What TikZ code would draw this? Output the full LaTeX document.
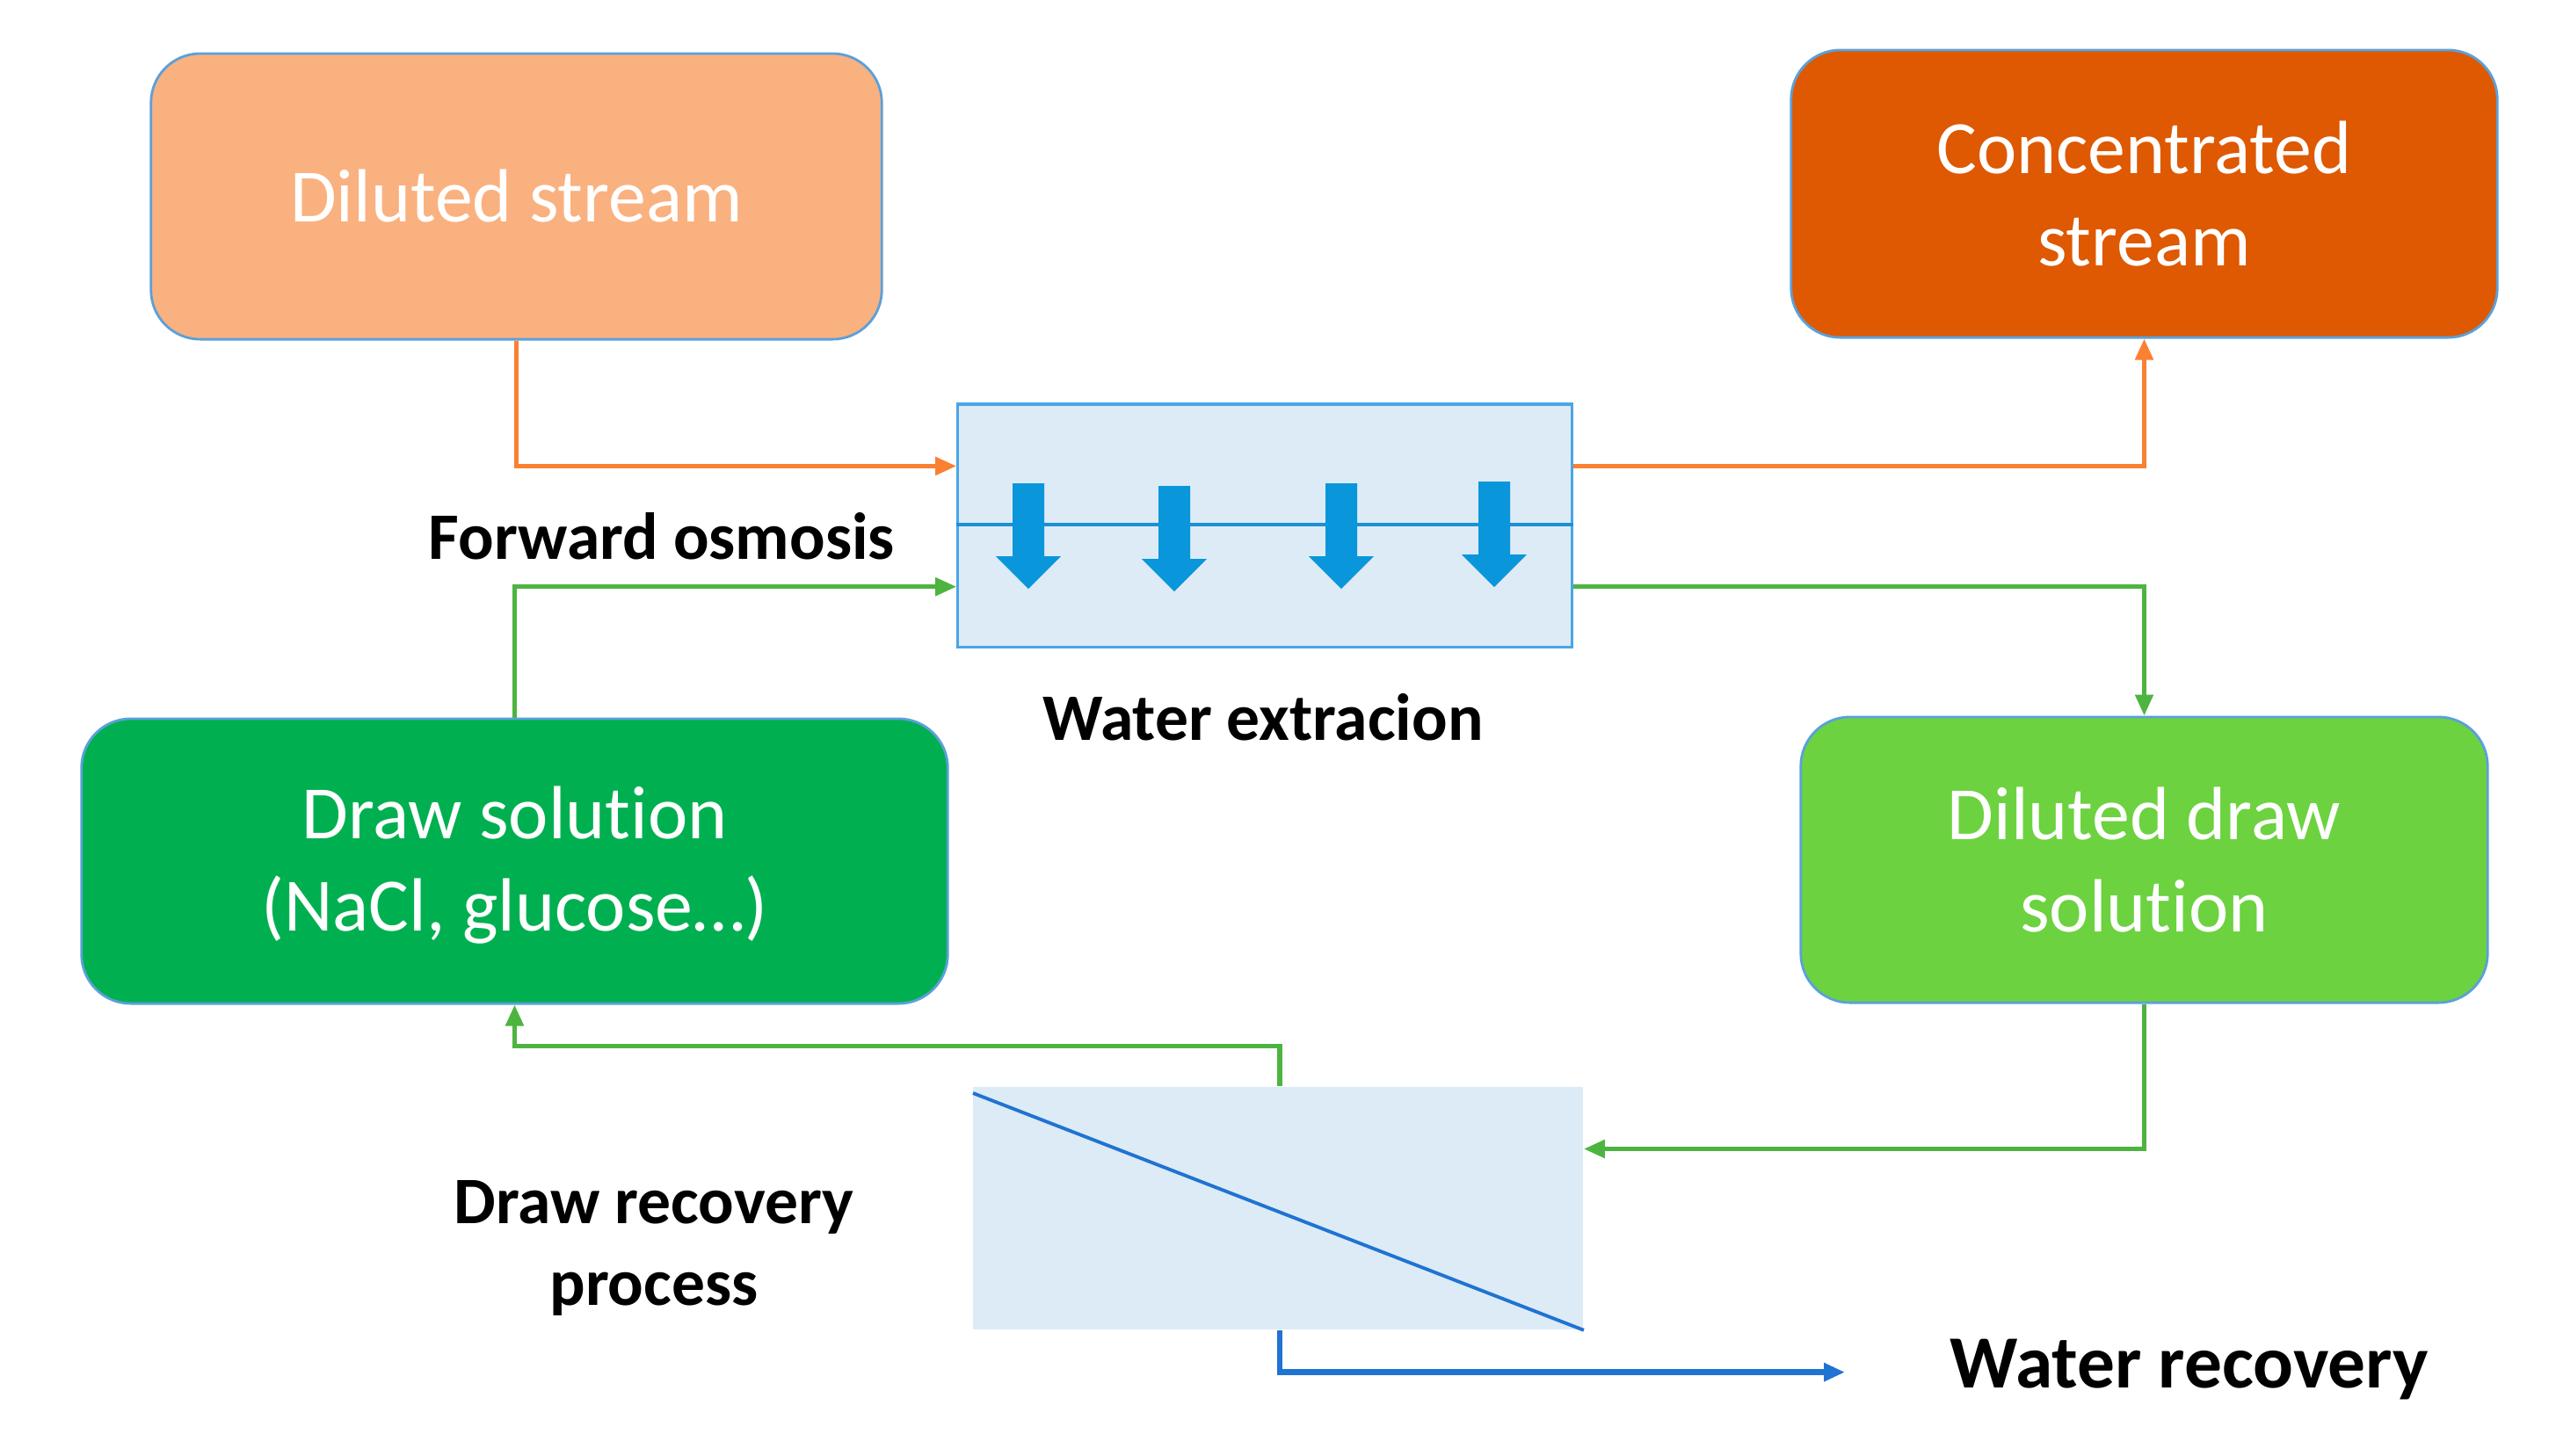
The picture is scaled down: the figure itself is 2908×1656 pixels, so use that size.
\documentclass[tikz,border=0pt]{standalone}
\usepackage{fontspec}
\setmainfont{Carlito}[Ligatures=NoCommon]
\usetikzlibrary{arrows.meta,calc}
\definecolor{peach}{RGB}{250,177,128}
\definecolor{burnt}{RGB}{222,89,2}
\definecolor{dgreen}{RGB}{0,176,80}
\definecolor{lgreen}{RGB}{108,210,64}
\definecolor{bordblue}{RGB}{91,160,218}
\definecolor{palebox}{RGB}{221,235,247}
\definecolor{fobord}{RGB}{75,165,230}
\definecolor{fatblue}{RGB}{10,150,218}
\definecolor{memblue}{RGB}{27,144,214}
\definecolor{oline}{RGB}{250,128,50}
\definecolor{gline}{RGB}{77,180,64}
\definecolor{bline}{RGB}{31,115,210}
\begin{document}
\begin{tikzpicture}[x=0.01cm,y=-0.01cm,
  procbox/.style={rectangle,rounded corners=0.56cm,draw=bordblue,line width=0.8pt,
    text=white,align=center,inner sep=0pt,font=\fontsize{24.4}{29.8}\selectfont},
  unitbox/.style={rectangle,inner sep=0pt,fill=palebox},
  lbl/.style={inner sep=0pt,align=center,font=\bfseries\fontsize{21.5}{26.5}\selectfont},
  conn/.style={line width=1.5pt,-{Triangle[length=0.24cm,width=0.2cm]}},
  oconn/.style={conn,draw=oline,oline},
  gconn/.style={conn,draw=gline,gline},
  bconn/.style={conn,draw=bline,bline,line width=1.9pt}]
\useasboundingbox (0,0) rectangle (2908,1656);
% boxes
\node[procbox,fill=peach,minimum width=8.31cm,minimum height=3.25cm] (dil) at (587.5,223.5) {Diluted stream};
\node[procbox,fill=burnt,minimum width=8.03cm,minimum height=3.27cm] (conc) at (2439.5,220.5) {Concentrated\\stream};
\node[procbox,fill=dgreen,minimum width=9.85cm,minimum height=3.24cm,text depth=0.06cm] (draw) at (585.5,980) {Draw solution\\(NaCl, glucose…)};
\node[procbox,fill=lgreen,minimum width=7.81cm,minimum height=3.25cm] (ddraw) at (2439.5,978.5) {Diluted draw\\solution};
% forward osmosis unit
\node[unitbox,draw=fobord,line width=0.9pt,minimum width=6.98cm,minimum height=2.76cm] (fo) at (1439,598) {};
\draw[memblue,line width=1.3pt] (fo.west |- 0,597) -- (fo.east |- 0,597);
\foreach \ax/\at/\ab in {1170/550/670, 1336/553/673, 1526/550/670, 1700/548/668}{
  \fill[fatblue] (\ax-18,\at) -- (\ax+18,\at) -- (\ax+18,\ab-37) -- (\ax+37,\ab-37)
    -- (\ax,\ab) -- (\ax-37,\ab-37) -- (\ax-18,\ab-37) -- cycle;
}
% recovery unit
\node[unitbox,minimum width=6.94cm,minimum height=2.76cm] (rec) at (1454,1375) {};
\draw[bline,line width=1.1pt] (1107,1244) -- (rec.south east);
% labels
\node[lbl] (folbl) at (753,610) {Forward osmosis};
\node[lbl] (welbl) at (1437,816) {Water extracion};
\node[lbl] (drlbl) at (744,1420) {Draw recovery\\process};
\node[lbl,font=\bfseries\fontsize{24.3}{29}\selectfont] (wrlbl) at (2491,1558) {Water recovery};
% helper coordinates
\coordinate (oy) at (0,530.4);
\coordinate (gy) at (0,667.7);
\coordinate (ry) at (0,1307.5);
\coordinate (ty) at (0,1190.7);
\coordinate (rx) at (1456,0);
\coordinate (wend) at (2099,1561.6);
% connectors
\draw[oconn] (dil.south) |- (fo.west |- oy);
\draw[oconn] (fo.east |- oy) -| (conc.south);
\draw[gconn] (draw.north) |- (fo.west |- gy);
\draw[gconn] (fo.east |- gy) -| (ddraw.north);
\draw[gconn] (ddraw.south) |- (rec.east |- ry);
\draw[gconn] (rec.north -| rx) -- (rx |- ty) -| (draw.south);
\draw[bconn] (rec.south -| rx) |- (wend);
\end{tikzpicture}
\end{document}
